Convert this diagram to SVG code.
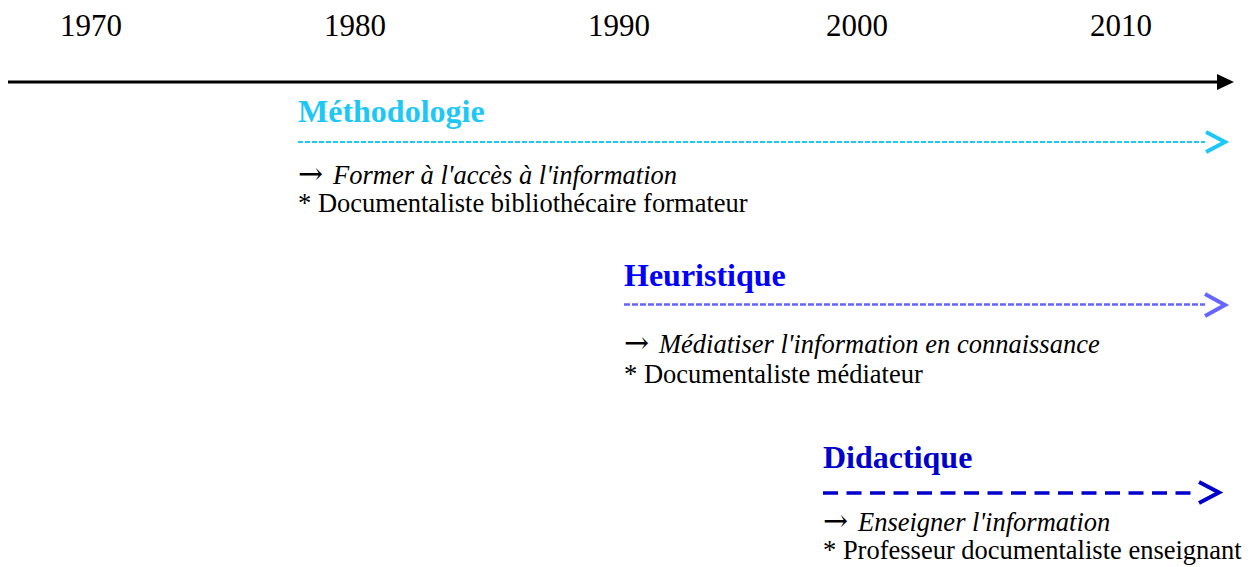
<svg xmlns="http://www.w3.org/2000/svg" width="1253" height="567" viewBox="0 0 1253 567">
<style>
.yr{font-family:"Liberation Serif","Times New Roman",serif;font-size:31px;fill:#000}
.hd{font-family:"Liberation Serif","Times New Roman",serif;font-size:32px;font-weight:bold}
.it{font-family:"Liberation Serif","Times New Roman",serif;font-size:26.5px;font-style:italic;fill:#000}
.ar{font-family:"DejaVu Serif","Liberation Serif",serif;font-style:normal;font-size:30px}
.tx{font-family:"Liberation Serif","Times New Roman",serif;font-size:26.5px;fill:#000}
.chev{fill:none;stroke-width:4;stroke-linecap:butt;stroke-linejoin:miter}
</style>
<rect width="1253" height="567" fill="#fff"/>
<g id="axis">
<text class="yr" x="60" y="36">1970</text>
<text class="yr" x="324" y="36">1980</text>
<text class="yr" x="588" y="36">1990</text>
<text class="yr" x="826" y="36">2000</text>
<text class="yr" x="1090" y="36">2010</text>
<line x1="8" y1="82" x2="1219" y2="82" stroke="#000" stroke-width="3"/>
<polygon points="1217,74 1234,82 1217,90" fill="#000"/>
</g>
<g id="connectors">
<line x1="298" y1="142" x2="1205" y2="142" stroke="#1ec8f5" stroke-width="2" stroke-dasharray="5,2"/>
<polyline class="chev" points="1206,132 1225,142 1206,152" stroke="#1ec8f5"/>
<line x1="624" y1="304.5" x2="1205" y2="304.5" stroke="#6666ff" stroke-width="2.7" stroke-dasharray="6,2"/>
<polyline class="chev" points="1205,294 1225,305 1205,316" stroke="#6666ff"/>
<line x1="823" y1="493" x2="1198" y2="493" stroke="#0000cc" stroke-width="3.5" stroke-dasharray="15,8.5"/>
<polyline class="chev" points="1199,482 1219,492.5 1199,503" stroke="#0000cc"/>
</g>
<g id="methodologie">
<text class="hd" x="298" y="122" fill="#1ec8f5">Méthodologie</text>
<text class="it" x="298" y="184"><tspan class="ar">→</tspan><tspan x="333">Former à l'accès à l'information</tspan></text>
<text class="tx" x="298" y="212">* Documentaliste bibliothécaire formateur</text>
</g>
<g id="heuristique">
<text class="hd" x="624" y="286" fill="#0000ff">Heuristique</text>
<text class="it" x="624" y="353"><tspan class="ar">→</tspan><tspan x="659">Médiatiser l'information en connaissance</tspan></text>
<text class="tx" x="624" y="383">* Documentaliste médiateur</text>
</g>
<g id="didactique">
<text class="hd" x="823" y="468" fill="#0000cc">Didactique</text>
<text class="it" x="823" y="531"><tspan class="ar">→</tspan><tspan x="858">Enseigner l'information</tspan></text>
<text class="tx" x="823" y="559">* Professeur documentaliste enseignant</text>
</g>
</svg>
